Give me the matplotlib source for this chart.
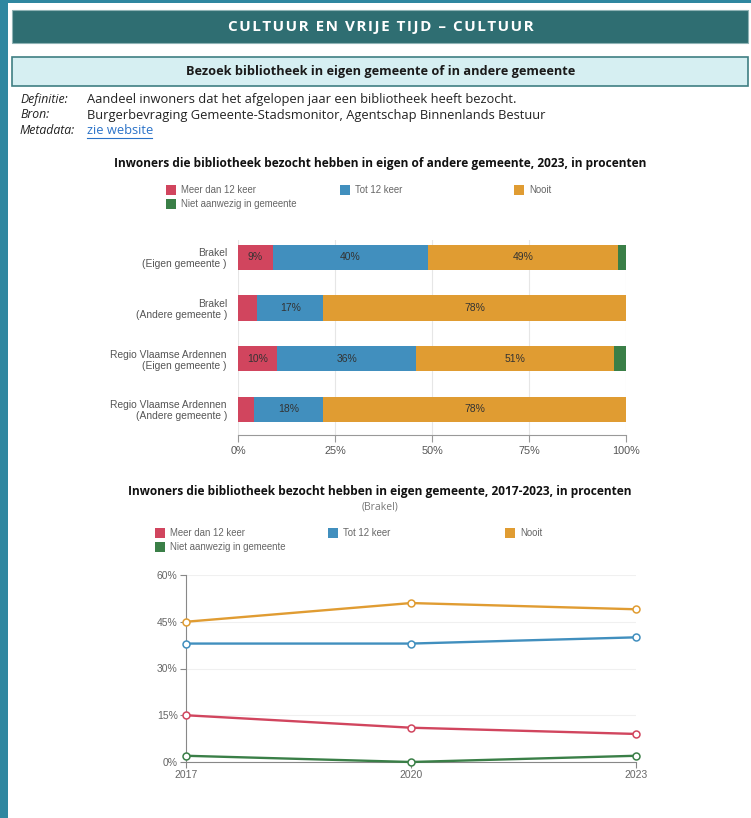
import matplotlib
matplotlib.use("Agg")
from matplotlib import pyplot as plt
from matplotlib.patches import Rectangle
from matplotlib.lines import Line2D

# data
series = ["Meer dan 12 keer", "Tot 12 keer", "Nooit", "Niet aanwezig in gemeente"]
kleuren = ["#d1455e", "#418fbe", "#e09c32", "#3a7f47"]

bar_cats = ["Brakel\n(Eigen gemeente )", "Brakel\n(Andere gemeente )",
            "Regio Vlaamse Ardennen\n(Eigen gemeente )", "Regio Vlaamse Ardennen\n(Andere gemeente )"]
meer_dan_12 = [9, 5, 10, 4]
tot_12 = [40, 17, 36, 18]
nooit = [49, 78, 51, 78]
niet_aanwezig = [2, 0, 3, 0]

jaren = [2017, 2020, 2023]
lijn_meer = [15, 11, 9]
lijn_tot = [38, 38, 40]
lijn_nooit = [45, 51, 49]
lijn_niet = [2, 0, 2]

W, H = 751, 818
fig = plt.figure(figsize=(W / 100, H / 100), dpi=100)
fig.patch.set_facecolor("white")

def fx(x):
    return x / W

def fy(y):
    return 1 - y / H

def rect_px(x0, y0, x1, y1, **kw):
    fig.patches.append(Rectangle((fx(x0), fy(y1)), fx(x1) - fx(x0), fy(y0) - fy(y1),
                                 transform=fig.transFigure, figure=fig, **kw))

# kader
rect_px(0, 0, 8, H, color="#2f87a0", lw=0)
rect_px(0, 0, W, 3, color="#2f87a0", lw=0)
rect_px(12, 10, 748, 43, facecolor="#2f6e72", edgecolor="#8fb3b5", lw=0.8)
fig.text(fx(381), fy(27), "\u200a".join("CULTUUR EN VRIJE TIJD – CULTUUR"),
         color="white", fontsize=11, fontweight="bold", family="Open Sans", ha="center", va="center")
rect_px(12, 57, 748, 86, facecolor="#d6eff2", edgecolor="#3f7f83", lw=1.2)
fig.text(fx(381), fy(72), "Bezoek bibliotheek in eigen gemeente of in andere gemeente",
         color="#1a1a1a", fontsize=9.2, fontweight="bold", family="Open Sans", ha="center", va="center")

meta = [("Definitie:", "Aandeel inwoners dat het afgelopen jaar een bibliotheek heeft bezocht."),
        ("Bron:", "Burgerbevraging Gemeente-Stadsmonitor, Agentschap Binnenlands Bestuur"),
        ("Metadata:", "zie website")]
for i, (lab, txt) in enumerate(meta):
    y = 99 + i * 16
    fig.text(fx(20), fy(y), lab, fontsize=8.8, style="italic", family="Open Sans", va="center", color="#222")
    kleur = "#2a72c8" if lab == "Metadata:" else "#222"
    fig.text(fx(87), fy(y), txt, fontsize=9.3, family="Open Sans", va="center", color=kleur)
fig.lines.append(Line2D([fx(87), fx(152)], [fy(138), fy(138)], transform=fig.transFigure,
                        color="#2a72c8", lw=0.8))

# legende
def legende(x_cols, y_rows):
    pos = [(x_cols[0], y_rows[0]), (x_cols[1], y_rows[0]), (x_cols[2], y_rows[0]), (x_cols[0], y_rows[1])]
    for (x, y), naam, k in zip(pos, series, kleuren):
        rect_px(x - 5, y - 5, x + 5, y + 5, color=k, lw=0)
        fig.text(fx(x + 10), fy(y), naam, fontsize=6.9, family="Liberation Sans", color="#666", va="center")

# staafdiagram
fig.text(fx(380), fy(163), "Inwoners die bibliotheek bezocht hebben in eigen of andere gemeente, 2023, in procenten",
         fontsize=8.6, fontweight="bold", family="Open Sans", ha="center", va="center", color="#111")
legende([171, 345, 519], [190, 204])

ax = fig.add_axes([fx(238), fy(435), fx(626) - fx(238), fy(240) - fy(435)])
y = list(range(len(bar_cats)))
links = [0] * len(bar_cats)
for waarden, k in zip([meer_dan_12, tot_12, nooit, niet_aanwezig], kleuren):
    b = ax.barh(y, waarden, left=links, height=0.5, color=k, edgecolor="none")
    ax.bar_label(b, labels=[f"{v}%" if v >= 8 else "" for v in waarden], label_type="center",
                 fontsize=7.5, color="#333", family="Liberation Sans")
    links = [l + v for l, v in zip(links, waarden)]
ax.set_xlim(0, 100)
ax.set_ylim(3.51, -0.34)
ax.set_yticks(y)
ax.set_yticklabels(bar_cats, fontsize=7.4, color="#555", family="Liberation Sans", linespacing=1.15)
ax.set_xticks([0, 25, 50, 75, 100])
ax.set_xticklabels(["0%", "25%", "50%", "75%", "100%"], fontsize=7.8, color="#555", family="Liberation Sans")
ax.tick_params(axis="y", length=0, pad=8)
ax.tick_params(axis="x", length=5, color="#999", pad=3)
ax.grid(axis="x", color="#e6e6e6", lw=0.8)
ax.set_axisbelow(True)
for s in ["top", "right", "left"]:
    ax.spines[s].set_visible(False)
ax.spines["bottom"].set_color("#999")

# lijndiagram
fig.text(fx(380), fy(492), "Inwoners die bibliotheek bezocht hebben in eigen gemeente, 2017-2023, in procenten",
         fontsize=8.6, fontweight="bold", family="Open Sans", ha="center", va="center", color="#111")
fig.text(fx(380), fy(507), "(Brakel)", fontsize=7.5, family="Open Sans", ha="center", va="center", color="#777")
legende([160, 333, 510], [533, 547])

ax2 = fig.add_axes([fx(186), fy(762), fx(636) - fx(186), fy(575) - fy(762)])
for waarden, k in zip([lijn_meer, lijn_tot, lijn_nooit, lijn_niet], kleuren):
    ax2.plot(jaren, waarden, color=k, lw=1.7, marker="o", ms=5, mfc="white", mec=k, mew=1.1, clip_on=False, zorder=3)
ax2.set_xlim(2017, 2023)
ax2.set_ylim(0, 60)
ax2.set_xticks(jaren)
ax2.set_xticklabels([str(j) for j in jaren], fontsize=7.5, color="#666", family="Liberation Sans")
ax2.set_yticks([0, 15, 30, 45, 60])
ax2.set_yticklabels(["0%", "15%", "30%", "45%", "60%"], fontsize=7.5, color="#666", family="Liberation Sans")
ax2.tick_params(axis="both", length=4, color="#888", pad=2)
ax2.grid(axis="y", color="#f0f0f0", lw=0.8)
ax2.set_axisbelow(True)
for s in ["top", "right"]:
    ax2.spines[s].set_visible(False)
ax2.spines["left"].set_color("#888")
ax2.spines["bottom"].set_color("#888")

fig.savefig("out.png", dpi=100)
